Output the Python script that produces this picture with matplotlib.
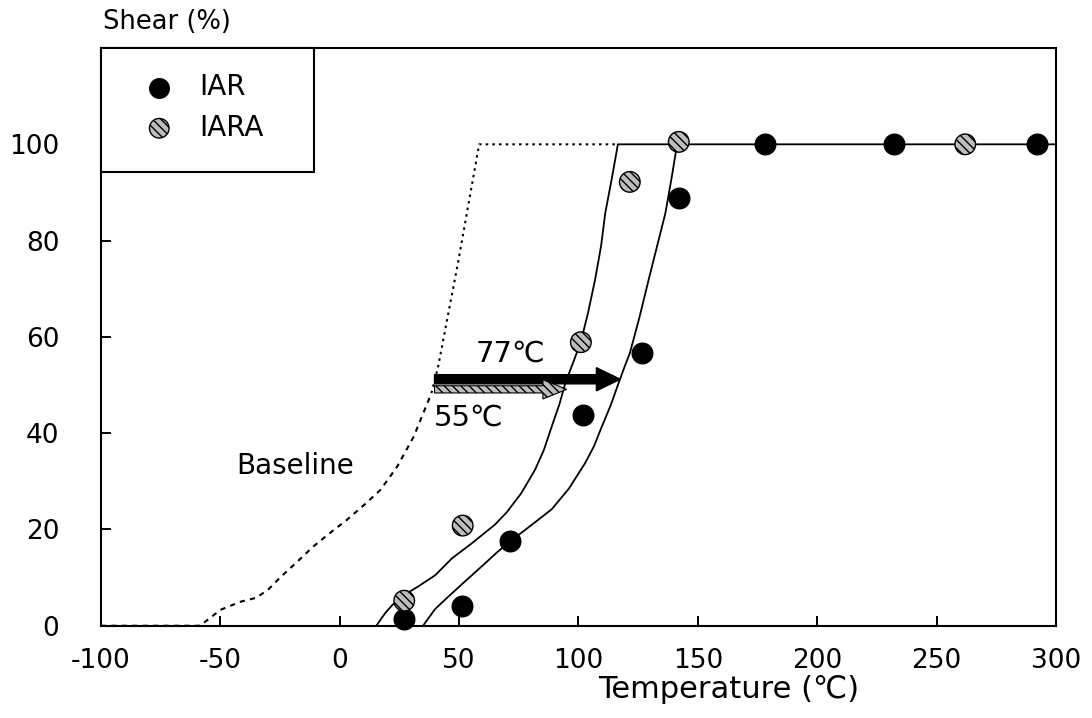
import matplotlib.pyplot as plt

plt.rcParams['font.family'] = ['DejaVu Sans']
plt.rcParams['axes.unicode_minus'] = False
plt.rcParams['hatch.linewidth'] = 1.0

# measured points
iar_x = [27, 51, 71.5, 102, 126.5, 142, 178, 232, 292]
iar_y = [1.3, 4, 17.6, 43.8, 56.6, 88.8, 100, 100, 100]
iara_x = [27, 51.5, 101, 121.5, 142, 262]
iara_y = [5.2, 20.8, 58.9, 92.2, 100.5, 100]

# fitted curves
iara_fit_x = [15.3, 17, 19, 22, 25, 29, 33, 40, 47, 55, 60, 65, 70, 76, 81.8, 85.5, 88.8, 92, 94.5,
              98, 101, 104, 107, 109.5, 111.2, 114, 116.5, 300]
iara_fit_y = [0, 1.2, 2.6, 4.3, 5.6, 7, 8.2, 10.5, 14, 17, 19, 21, 23.6, 27.5, 32.4, 36.5, 41.4, 46, 50.4,
              55, 59, 65, 72, 79, 85.7, 93, 100, 100]
iar_fit_x = [34.9, 37.5, 40, 45.4, 52, 59.4, 66, 71.6, 80, 88.8, 96, 102.8, 106.5, 109.8, 113.5, 116.8,
             119, 121.5, 125.5, 129.4, 133, 136.4, 139, 141.3]
iar_fit_y = [0, 1.8, 3.5, 6, 9, 12.3, 15.3, 17.6, 20.8, 24.2, 28.5, 33.8, 37.3, 41.4, 45.8, 50.4,
             53.4, 56.6, 64, 71.9, 79, 85.7, 93, 100]

# baseline (dashed lower part, dotted upper part)
base_lo_x = [-100, -58.5, -50, -41.5, -35, -30, -25, -18, -11, -4, 3, 10, 17, 24, 31, 38.4]
base_lo_y = [0, 0, 3.3, 5, 5.8, 7.5, 10, 13.2, 16.5, 19.3, 22, 25, 28.2, 33, 39.3, 48.3]
base_hi_x = [38.4, 41.2, 49.5, 58.4, 116.5]
base_hi_y = [48.3, 53.8, 75.3, 100, 100]

# shift arrows: start, end, level
arrow_77 = (39.7, 117.5, 51.2)
arrow_55 = (39.7, 95.1, 49.1)

fig = plt.figure(figsize=(10.92, 7.18), dpi=100)
ax = fig.add_axes([0.0925, 0.1285, 0.8745, 0.8046])

ax.plot(iara_fit_x, iara_fit_y, color='black', lw=1.3, zorder=2)
ax.plot(iar_fit_x, iar_fit_y, color='black', lw=1.3, zorder=2)
ax.plot(base_lo_x, base_lo_y, color='black', lw=1.5, linestyle=(0, (2.5, 2.5)), zorder=2)
ax.plot(base_hi_x, base_hi_y, color='black', lw=1.5, linestyle=(0, (1.2, 2.0)), zorder=2)

ax.scatter(iar_x, iar_y, s=220, color='black', zorder=4, clip_on=False, label='IAR')
ax.scatter(iara_x, iara_y, s=220, facecolor='#bdbdbd', edgecolor='black', hatch='\\\\\\\\',
           linewidth=1.0, zorder=4, clip_on=False, label='IARA')

# arrows
x0, x1, yy = arrow_77
ax.arrow(x0, yy, x1 - x0, 0, width=1.9, head_width=4.8, head_length=10,
         length_includes_head=True, fc='black', ec='black', zorder=3)
x0, x1, yy = arrow_55
ax.arrow(x0, yy, x1 - x0, 0, width=1.5, head_width=4.0, head_length=10,
         length_includes_head=True, fc='#bdbdbd', ec='black', lw=0.8,
         hatch='\\\\\\\\', zorder=3)

ax.text(57, 56.5, '77℃', fontsize=21, ha='left', va='center')
ax.text(39.5, 43.3, '55℃', fontsize=21, ha='left', va='center')
ax.text(-43.5, 33.2, 'Baseline', fontsize=20, ha='left', va='center')

ax.set_xlim(-100, 300)
ax.set_ylim(0, 120)
ax.set_xticks(range(-100, 301, 50))
ax.set_yticks(range(0, 101, 20))
ax.tick_params(direction='in', length=7, width=1.4, labelsize=19)
ax.tick_params(axis='x', pad=16)
ax.tick_params(axis='y', pad=30)
for sp in ax.spines.values():
    sp.set_linewidth(1.5)

ax.set_xlabel('Temperature (℃)', fontsize=22)
ax.xaxis.set_label_coords(0.657, -0.086)
ax.text(0.002, 1.045, 'Shear (%)', transform=ax.transAxes, fontsize=18.5,
        ha='left', va='center')

# legend box
ax.add_patch(plt.Rectangle((0, 1 - 0.2145), 0.223, 0.2145, transform=ax.transAxes,
                           facecolor='white', edgecolor='black', lw=1.5, zorder=5,
                           clip_on=False))
leg = ax.legend(loc='upper left', bbox_to_anchor=(0.013, 1.0), frameon=False,
                fontsize=20, handletextpad=0.7, labelspacing=0.45, markerscale=0.95,
                handlelength=1.5)
leg.set_zorder(6)

fig.savefig('out.png', dpi=100)
